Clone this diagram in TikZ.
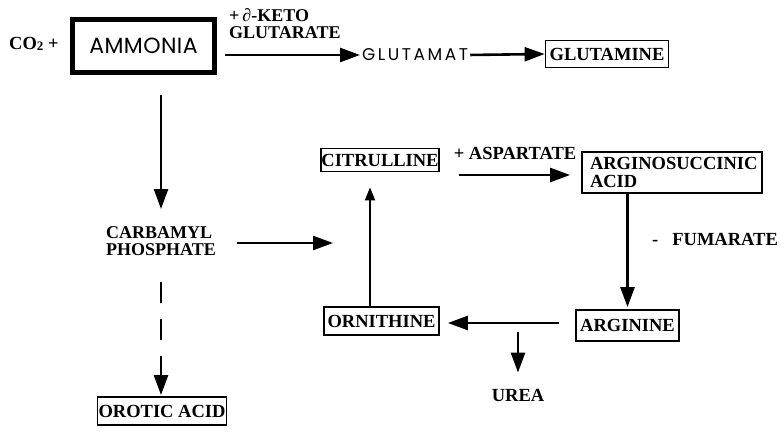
\documentclass[tikz,border=0pt]{standalone}
\usepackage{fontspec}
\setmainfont{Liberation Serif}
\newfontfamily\sansA[LetterSpace=2]{Poppins}
\newfontfamily\sansG[LetterSpace=15]{Poppins}
\usetikzlibrary{arrows.meta}
\tikzset{
  lbl/.style={font=\fontsize{18.5}{17}\selectfont\bfseries, inner sep=0pt},
  box/.style={draw, line width=1.8pt, font=\fontsize{18.5}{18}\selectfont\bfseries, inner sep=0pt},
  arr/.style={line width=2.6pt, -{Triangle[length=20pt,width=14pt]}},
  arrthin/.style={line width=1.8pt, -{Triangle[length=13pt,width=10pt]}},
}
\begin{document}
\begin{tikzpicture}[x=1pt,y=-1pt]
\useasboundingbox (0,0) rectangle (784,443);
% nodes
\node[lbl, anchor=west] (co) at (9,44) {CO\raisebox{-0.5pt}{\fontsize{13}{13}\selectfont 2}\ +};
\node[draw, line width=5pt, minimum width=142pt, minimum height=53pt, inner sep=0pt,
      font=\sansA\fontsize{22}{22}\selectfont] (amm) at (143.5,46) {AMMONIA};
\node[lbl, anchor=west, align=left, font=\fontsize{18}{17}\selectfont\bfseries] (keto) at (229,23.5) {+\,∂-KETO\\GLUTARATE};
\node[anchor=west, inner sep=0pt, font=\sansG\fontsize{17}{17}\selectfont] (glu) at (362,55) {GLUTAMAT};
\node[box, minimum width=123pt, minimum height=27pt] (gln) at (607,54) {GLUTAMINE};
\node[lbl, align=left, font=\fontsize{18}{17.5}\selectfont\bfseries] (carb) at (161,241) {CARBAMYL\\PHOSPHATE};
\node[box, minimum width=129pt, minimum height=28pt] (oro) at (162,411) {OROTIC ACID};
\node[box, minimum width=118pt, minimum height=23pt] (cit) at (380,160) {CITRULLINE};
\node[lbl] (asp) at (515,153) {+ ASPARTATE};
\node[box, text width=164pt, inner xsep=8pt, minimum height=41pt, align=left] (asa) at (672,172.5) {ARGINOSUCCINIC\\ACID};
\node[lbl, anchor=west] (fum) at (652,239) {-\hspace{14pt}FUMARATE};
\node[box, minimum width=103pt, minimum height=31pt] (arg) at (627.5,325.5) {ARGININE};
\node[box, minimum width=115pt, minimum height=28pt] (orn) at (381.5,321) {ORNITHINE};
\node[lbl] (urea) at (518,395) {UREA};
\coordinate (cyc) at (333,243);
\coordinate (r1) at (0,175);
\coordinate (r2) at (0,323);
% connectors
\draw[arr, shorten <=7.5pt, shorten >=2pt] (amm.east |- glu.west) -- (glu.west);
\draw[arr, shorten <=2pt] (glu.east) -- (gln.west);
\draw[arr, shorten <=20.5pt, shorten >=17pt] (amm.south -| carb.north) -- (carb.north);
\draw[arr, dash pattern=on 21pt off 16pt, shorten <=26pt, shorten >=1pt] (carb.south) -- (carb.south |- oro.north);
\draw[arr, shorten <=20.5pt] (carb.east |- cyc) -- (cyc);
\draw[arrthin, shorten >=15pt] ([xshift=-11.5pt]orn.north) -- ([xshift=-11.5pt]orn.north |- cit.south);
\draw[arr, shorten <=19pt, shorten >=11pt] (cit.east |- r1) -- (asa.west |- r1);
\draw[arr, shorten >=2pt] (asa.south -| arg.north) -- (arg.north);
\draw[arr, shorten <=16pt, shorten >=8pt] (arg.west |- r2) -- (orn.east |- r2);
\draw[arr, shorten <=9pt, shorten >=16pt] (urea.north |- r2) -- (urea.north);
\end{tikzpicture}
\end{document}
